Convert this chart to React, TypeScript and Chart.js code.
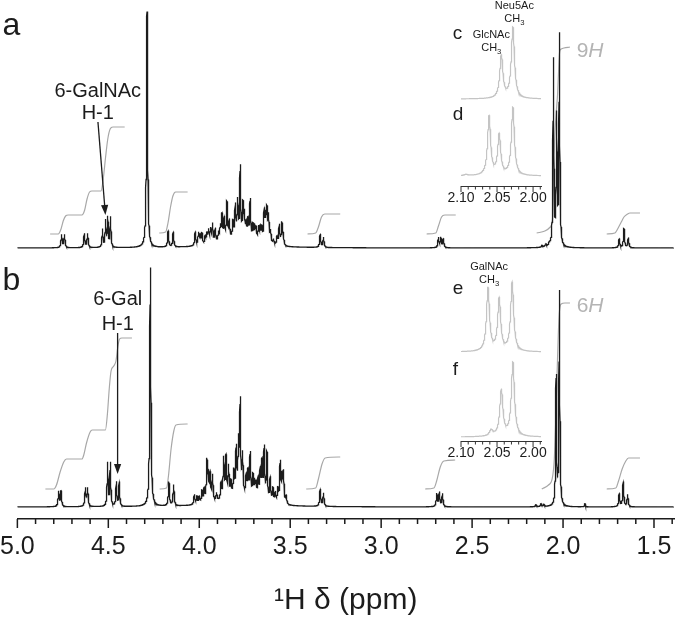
import React, { useEffect, useRef } from 'react';
import { Chart, registerables } from 'chart.js';

Chart.register(...registerables);

const FONT = '"Liberation Sans", Arial, Helvetica, sans-serif';
const INK = '#1c1c1c';
const INTEGRAL_GRAY = '#a8a8a8';
const INSET_GRAY = '#c4c4c4';
const LABEL_GRAY = '#b4b4b4';

// ---------- main axis ----------
const X_MIN = 1.39;
const X_MAX = 5.0;
const Y_MAX = 519;
const MAJOR_TICKS = [5.0, 4.5, 4.0, 3.5, 3.0, 2.5, 2.0, 1.5];
const MINOR_TICKS = [4.9, 4.8, 4.7, 4.6, 4.4, 4.3, 4.2, 4.1, 3.9, 3.8, 3.7, 3.6, 3.4, 3.3, 3.2, 3.1,
  2.9, 2.8, 2.7, 2.6, 2.4, 2.3, 2.2, 2.1, 1.9, 1.8, 1.7, 1.6, 1.4];

// stacking offsets of the two spectra (intensity units)
const OFFSET_A = 271;
const OFFSET_B = 12;

// peaks: [ppm, height, half-width (ppm)]
const PEAKS_A: number[][] = [
  [4.757, 13, 0.0035], [4.741, 13, 0.0035],
  [4.632, 14, 0.0035], [4.614, 14, 0.0035],
  [4.532, 18, 0.003], [4.515, 26, 0.003], [4.503, 29, 0.003], [4.488, 30, 0.003],
  [4.287, 236, 0.0035],
  [4.171, 16, 0.0035], [4.143, 15, 0.0035],
  [4.022, 14, 0.0035], [4.004, 12, 0.0035], [3.995, 9, 0.0035], [3.985, 11, 0.0035], [3.967, 8, 0.0035],
  [3.958, 10, 0.0035], [3.949, 13, 0.0035], [3.938, 14, 0.0035], [3.927, 19, 0.0035], [3.912, 14, 0.0035],
  [3.894, 9, 0.0035], [3.884, 14, 0.0035], [3.875, 25, 0.0035], [3.863, 21, 0.0035], [3.848, 37, 0.0035],
  [3.835, 18, 0.0035], [3.815, 16, 0.0035], [3.802, 32, 0.0035], [3.789, 36, 0.0035], [3.775, 70, 0.003],
  [3.760, 32, 0.0035], [3.752, 22, 0.0035], [3.742, 14, 0.0035], [3.732, 18, 0.0035], [3.720, 40, 0.0035],
  [3.705, 15, 0.0035], [3.695, 14, 0.0035], [3.687, 12, 0.0035], [3.674, 14, 0.0035], [3.665, 14, 0.0035],
  [3.656, 14, 0.0035], [3.643, 30, 0.0035], [3.635, 22, 0.0035], [3.628, 30, 0.0035], [3.619, 26, 0.0035],
  [3.608, 12, 0.0035], [3.592, 5, 0.0035], [3.572, 8, 0.0035],
  [3.560, 20, 0.0035], [3.546, 22, 0.0035], [3.538, 10, 0.0035],
  [3.79, 8, 0.11],
  [3.335, 13, 0.0035], [3.317, 10, 0.0035],
  [2.685, 10, 0.0035], [2.672, 10, 0.0035], [2.658, 9, 0.0035],
  [2.115, 2, 0.004], [2.095, 3, 0.004], [2.075, 3, 0.004],
  [2.053, 186, 0.0028], [2.035, 126, 0.0028], [2.020, 210, 0.0028],
  [1.691, 9, 0.0035], [1.665, 19, 0.0035], [1.641, 10, 0.0035],
];

const PEAKS_B: number[][] = [
  [4.773, 15, 0.0035], [4.760, 15, 0.0035],
  [4.626, 18, 0.0035], [4.614, 18, 0.0035],
  [4.504, 43, 0.003], [4.489, 43, 0.003],
  [4.456, 24, 0.003], [4.440, 24, 0.003],
  [4.269, 239, 0.0035],
  [4.167, 24, 0.0035], [4.141, 21, 0.0035],
  [4.027, 10, 0.0035], [4.013, 8, 0.0035], [4.000, 7, 0.0035], [3.985, 12, 0.0035], [3.973, 13, 0.0035],
  [3.958, 40, 0.0035], [3.950, 24, 0.0035], [3.940, 26, 0.0035], [3.927, 26, 0.0035], [3.905, 8, 0.0035],
  [3.880, 16, 0.0035], [3.866, 40, 0.0035], [3.853, 40, 0.0035], [3.839, 30, 0.0035], [3.826, 14, 0.0035],
  [3.810, 24, 0.0035], [3.797, 46, 0.0035], [3.784, 50, 0.0035], [3.775, 90, 0.003], [3.762, 40, 0.0035],
  [3.742, 20, 0.0035], [3.732, 24, 0.0035], [3.720, 44, 0.0035], [3.705, 22, 0.0035], [3.695, 16, 0.0035],
  [3.687, 14, 0.0035], [3.676, 20, 0.0035], [3.665, 28, 0.0035], [3.655, 36, 0.0035], [3.643, 52, 0.0035],
  [3.628, 48, 0.0035], [3.610, 24, 0.0035], [3.595, 14, 0.0035], [3.582, 10, 0.0035], [3.568, 14, 0.0035],
  [3.555, 40, 0.0035], [3.545, 24, 0.0035], [3.537, 30, 0.0035], [3.522, 8, 0.0035],
  [3.79, 9, 0.11],
  [3.335, 17, 0.0035], [3.317, 13, 0.0035],
  [2.694, 13, 0.0035], [2.680, 14, 0.0035], [2.663, 13, 0.0035],
  [2.148, 2, 0.004], [2.120, 3, 0.004], [2.105, 2, 0.004],
  [2.038, 128, 0.0028], [2.020, 214, 0.0028],
  [1.879, 3, 0.003],
  [1.691, 13, 0.0035], [1.669, 25, 0.0035], [1.645, 12, 0.0035],
];

// integration curves: [ppm, value]
const INTEGRALS_A: number[][][] = [
  [[4.82, 285], [4.775, 285], [4.76, 290], [4.748, 298], [4.735, 303], [4.72, 304], [4.645, 304], [4.63, 309],
   [4.617, 320], [4.603, 327], [4.59, 328], [4.54, 328], [4.528, 340], [4.515, 362], [4.503, 380], [4.49, 390],
   [4.475, 392], [4.41, 392]],
  [[4.22, 286], [4.185, 287], [4.172, 296], [4.158, 312], [4.145, 323], [4.13, 327], [4.064, 327]],
  [[3.405, 285], [3.36, 286], [3.345, 292], [3.328, 302], [3.31, 305], [3.225, 305]],
  [[2.75, 285], [2.70, 286], [2.685, 293], [2.668, 302], [2.65, 304], [2.59, 304]],
  [[2.145, 286], [2.10, 288], [2.07, 292], [2.058, 300], [2.052, 340], [2.046, 380], [2.038, 405], [2.030, 425],
   [2.024, 450], [2.021, 462], [2.018, 468], [2.010, 470], [1.995, 471], [1.962, 472]],
  [[1.76, 285], [1.715, 286], [1.70, 290], [1.68, 297], [1.665, 302], [1.645, 305], [1.632, 306], [1.577, 306]],
];

const INTEGRALS_B: number[][][] = [
  [[4.846, 30], [4.80, 30], [4.785, 34], [4.765, 47], [4.745, 57], [4.73, 60], [4.645, 60], [4.635, 64],
   [4.62, 76], [4.60, 87], [4.588, 89], [4.516, 89], [4.505, 105], [4.495, 130], [4.485, 148], [4.47, 153],
   [4.458, 158], [4.448, 172], [4.438, 180], [4.425, 181], [4.37, 181]],
  [[4.218, 30], [4.18, 31], [4.17, 42], [4.155, 70], [4.14, 88], [4.128, 94], [4.064, 95]],
  [[3.412, 30], [3.36, 31], [3.345, 40], [3.325, 55], [3.308, 61], [3.225, 62]],
  [[2.758, 30], [2.71, 31], [2.695, 38], [2.675, 52], [2.655, 58], [2.593, 59]],
  [[2.117, 30], [2.08, 34], [2.06, 40], [2.048, 60], [2.04, 100], [2.032, 150], [2.026, 185], [2.021, 205],
   [2.017, 212], [2.01, 215], [1.99, 216], [1.962, 216]],
  [[1.76, 30], [1.71, 31], [1.695, 38], [1.675, 50], [1.655, 58], [1.64, 61], [1.577, 61]],
];

// ---------- insets ----------
const INSET_MIN = 1.989;
const INSET_MAX = 2.10;
const INSET_Y_MAX = 186;
const INSET_MAJOR = [2.10, 2.05, 2.00];
const INSET_MINOR = [2.09, 2.08, 2.07, 2.06, 2.04, 2.03, 2.02, 2.01, 1.99];

const OFFSET_C = 87;
const OFFSET_D = 10;
const OFFSET_E = 89;
const OFFSET_F = 4;

const PEAKS_C: number[][] = [[2.044, 43, 0.0026], [2.028, 71, 0.0026]];
const PEAKS_D: number[][] = [[2.093, 1.2, 0.003], [2.061, 59, 0.0025], [2.047, 40, 0.0025], [2.028, 68, 0.0025]];
const PEAKS_E: number[][] = [[2.0625, 63, 0.0025], [2.047, 52, 0.0025], [2.029, 69, 0.0025]];
const PEAKS_F: number[][] = [[2.058, 6, 0.003], [2.044, 46, 0.0026], [2.028, 74, 0.0026]];

function spectrum(peaks: number[][], offset: number, from: number, to: number, step: number) {
  const n = Math.round((to - from) / step);
  const pts: { x: number; y: number }[] = [];
  for (let k = 0; k <= n; k++) {
    const x = to - k * step;
    let y = offset;
    for (const [p, h, w] of peaks) {
      const d = (x - p) / w;
      y += h / (1 + d * d);
    }
    pts.push({ x, y });
  }
  return pts;
}

const toPts = (arr: number[][]) => arr.map(([x, y]) => ({ x, y }));

function drawText(ctx: CanvasRenderingContext2D, text: string, px: number, py: number, size: number,
  color: string, align: CanvasTextAlign = 'center', style = '') {
  ctx.font = `${style}${size}px ${FONT}`;
  ctx.fillStyle = color;
  ctx.textAlign = align;
  ctx.textBaseline = 'alphabetic';
  ctx.fillText(text, px, py);
}

function drawCH3(ctx: CanvasRenderingContext2D, cx: number, by: number, size: number, color: string) {
  ctx.font = `${size}px ${FONT}`;
  const w1 = ctx.measureText('CH').width;
  ctx.font = `${size * 0.7}px ${FONT}`;
  const w2 = ctx.measureText('3').width;
  const left = cx - (w1 + w2) / 2;
  drawText(ctx, 'CH', left, by, size, color, 'left');
  drawText(ctx, '3', left + w1, by + size * 0.25, size * 0.7, color, 'left');
}

function drawArrow(ctx: CanvasRenderingContext2D, x1: number, y1: number, x2: number, y2: number) {
  const ang = Math.atan2(y2 - y1, x2 - x1);
  const head = 10, half = 3.6;
  const bx = x2 - head * Math.cos(ang), by = y2 - head * Math.sin(ang);
  ctx.strokeStyle = INK;
  ctx.lineWidth = 1.3;
  ctx.beginPath();
  ctx.moveTo(x1, y1);
  ctx.lineTo(bx, by);
  ctx.stroke();
  ctx.fillStyle = INK;
  ctx.beginPath();
  ctx.moveTo(x2, y2);
  ctx.lineTo(bx + half * Math.sin(ang), by - half * Math.cos(ang));
  ctx.lineTo(bx - half * Math.sin(ang), by + half * Math.cos(ang));
  ctx.closePath();
  ctx.fill();
}

function drawTicks(chart: any, major: number[], minor: number[], majorLen: number, minorLen: number, width: number, color: string) {
  const { ctx, scales, chartArea } = chart;
  const x = scales.x;
  const y0 = chartArea.bottom;
  ctx.save();
  ctx.strokeStyle = color;
  ctx.lineWidth = width;
  ctx.beginPath();
  for (const v of major) {
    const px = x.getPixelForValue(v);
    ctx.moveTo(px, y0);
    ctx.lineTo(px, y0 + majorLen);
  }
  for (const v of minor) {
    const px = x.getPixelForValue(v);
    ctx.moveTo(px, y0);
    ctx.lineTo(px, y0 + minorLen);
  }
  ctx.stroke();
  ctx.restore();
}

const mainPlugin = {
  id: 'mainDecor',
  afterDraw(chart: any) {
    drawTicks(chart, MAJOR_TICKS, MINOR_TICKS, 9, 5, 1.5, INK);
    const { ctx, scales } = chart;
    const X = (v: number) => scales.x.getPixelForValue(v);
    const Y = (v: number) => scales.y.getPixelForValue(v);
    ctx.save();
    // panel letters
    drawText(ctx, 'a', X(5.082), Y(484), 32, INK, 'left');
    drawText(ctx, 'b', X(5.082), Y(229), 32, INK, 'left');
    // annotations a
    drawText(ctx, '6-GalNAc', X(4.558), Y(422), 20, INK);
    drawText(ctx, 'H-1', X(4.558), Y(400), 20, INK);
    drawArrow(ctx, X(4.557), Y(397), X(4.516), Y(304));
    // annotations b
    drawText(ctx, '6-Gal', X(4.448), Y(214), 20, INK);
    drawText(ctx, 'H-1', X(4.448), Y(189), 20, INK);
    drawArrow(ctx, X(4.449), Y(186), X(4.449), Y(45));
    // integral labels
    const nH = (num: string, ppm: number, val: number) => {
      const px = X(ppm), py = Y(val) + 7.5;
      ctx.font = `21px ${FONT}`;
      const w = ctx.measureText(num).width;
      drawText(ctx, num, px, py, 21, LABEL_GRAY, 'left');
      drawText(ctx, 'H', px + w, py, 21, LABEL_GRAY, 'left', 'italic ');
    };
    nH('9', 1.925, 469.5);
    nH('6', 1.925, 214.5);
    ctx.restore();
  },
};

function makeInsetPlugin(labels: { top: string; bottom: string; compounds: { name: string; ppm: number; val: number }[] }) {
  return {
    id: 'insetDecor',
    afterDraw(chart: any) {
      drawTicks(chart, INSET_MAJOR, INSET_MINOR, 6, 3.5, 1, '#333');
      const { ctx, scales } = chart;
      const X = (v: number) => scales.x.getPixelForValue(v);
      const Y = (v: number) => scales.y.getPixelForValue(v);
      ctx.save();
      drawText(ctx, labels.top, X(2.1115), Y(147), 19, INK, 'left');
      drawText(ctx, labels.bottom, X(2.1115), Y(66), 19, INK, 'left');
      for (const c of labels.compounds) {
        drawText(ctx, c.name, X(c.ppm), Y(c.val), 11, INK);
        drawCH3(ctx, X(c.ppm), Y(c.val - 13), 11, INK);
      }
      ctx.restore();
    },
  };
}

function MainChart() {
  const ref = useRef<HTMLCanvasElement>(null);
  useEffect(() => {
    if (!ref.current) return;
    const specA = spectrum(PEAKS_A, OFFSET_A, X_MIN, X_MAX, 0.0005);
    const specB = spectrum(PEAKS_B, OFFSET_B, X_MIN, X_MAX, 0.0005);
    const lineDs = (data: any[], color: string, width: number, smooth: boolean) => ({
      data, borderColor: color, borderWidth: width, pointRadius: 0, fill: false,
      tension: smooth ? 0.4 : 0, cubicInterpolationMode: smooth ? 'monotone' : 'default',
    });
    const datasets: any[] = [
      lineDs(specA, INK, 1.3, false),
      lineDs(specB, INK, 1.3, false),
      ...INTEGRALS_A.map((s) => lineDs(toPts(s), INTEGRAL_GRAY, 1.2, true)),
      ...INTEGRALS_B.map((s) => lineDs(toPts(s), INTEGRAL_GRAY, 1.2, true)),
    ];
    const chart = new Chart(ref.current, {
      type: 'line',
      data: { datasets },
      options: {
        animation: false,
        responsive: false,
        parsing: false,
        events: [],
        layout: { padding: { left: 17, right: 1, top: 0, bottom: 0 } },
        plugins: { legend: { display: false }, tooltip: { enabled: false } },
        scales: {
          x: {
            type: 'linear', reverse: true, min: X_MIN, max: X_MAX,
            afterBuildTicks: (s: any) => { s.ticks = MAJOR_TICKS.map((v) => ({ value: v })); },
            afterFit: (s: any) => { s.height = 100; },
            grid: { display: true, drawOnChartArea: false, drawTicks: true, tickLength: 13, color: 'rgba(0,0,0,0)' },
            border: { display: true, color: INK, width: 1.5 },
            ticks: {
              font: { family: FONT, size: 25 }, color: INK, padding: 0, maxRotation: 0, autoSkip: false,
              callback: (v: any) => Number(v).toFixed(1),
            },
            title: { display: true, text: '¹H δ (ppm)', font: { family: FONT, size: 30 }, color: INK, padding: 0 },
          },
          y: { type: 'linear', display: false, min: 0, max: Y_MAX },
        },
      } as any,
      plugins: [mainPlugin],
    });
    return () => chart.destroy();
  }, []);
  return <canvas ref={ref} width={675} height={619} style={{ position: 'absolute', left: 0, top: 0, width: 675, height: 619 }} />;
}

function Inset(props: { top: number; peaksTop: number[][]; offTop: number; peaksBottom: number[][]; offBottom: number;
  labelTop: string; labelBottom: string; compounds: { name: string; ppm: number; val: number }[] }) {
  const ref = useRef<HTMLCanvasElement>(null);
  useEffect(() => {
    if (!ref.current) return;
    const t = spectrum(props.peaksTop, props.offTop, INSET_MIN, INSET_MAX, 0.0002);
    const b = spectrum(props.peaksBottom, props.offBottom, INSET_MIN, INSET_MAX, 0.0002);
    const chart = new Chart(ref.current, {
      type: 'line',
      data: {
        datasets: [
          { data: t, borderColor: INSET_GRAY, borderWidth: 1.2, pointRadius: 0, tension: 0 },
          { data: b, borderColor: INSET_GRAY, borderWidth: 1.2, pointRadius: 0, tension: 0 },
        ],
      },
      options: {
        animation: false,
        responsive: false,
        parsing: false,
        events: [],
        layout: { padding: { left: 31, right: 19, top: 0, bottom: 0 } },
        plugins: { legend: { display: false }, tooltip: { enabled: false } },
        scales: {
          x: {
            type: 'linear', reverse: true, min: INSET_MIN, max: INSET_MAX,
            afterBuildTicks: (s: any) => { s.ticks = INSET_MAJOR.map((v) => ({ value: v })); },
            afterFit: (s: any) => { s.height = 26; },
            grid: { display: true, drawOnChartArea: false, drawTicks: true, tickLength: 4, color: 'rgba(0,0,0,0)' },
            border: { display: true, color: '#333', width: 1 },
            ticks: {
              font: { family: FONT, size: 14 }, color: INK, padding: 0, maxRotation: 0, autoSkip: false,
              callback: (v: any) => Number(v).toFixed(2),
            },
          },
          y: { type: 'linear', display: false, min: 0, max: INSET_Y_MAX },
        },
      } as any,
      plugins: [makeInsetPlugin({ top: props.labelTop, bottom: props.labelBottom, compounds: props.compounds })],
    });
    return () => chart.destroy();
  }, []);
  return <canvas ref={ref} width={130} height={212} style={{ position: 'absolute', left: 430, top: props.top, width: 130, height: 212 }} />;
}

export default function App() {
  return (
    <div style={{ position: 'absolute', left: 0, top: 0, width: 675, height: 619, background: '#fff' }}>
      <MainChart />
      <Inset top={0} peaksTop={PEAKS_C} offTop={OFFSET_C} peaksBottom={PEAKS_D} offBottom={OFFSET_D}
        labelTop="c" labelBottom="d"
        compounds={[{ name: 'GlcNAc', ppm: 2.058, val: 148 }, { name: 'Neu5Ac', ppm: 2.026, val: 177 }]} />
      <Inset top={255} peaksTop={PEAKS_E} offTop={OFFSET_E} peaksBottom={PEAKS_F} offBottom={OFFSET_F}
        labelTop="e" labelBottom="f"
        compounds={[{ name: 'GalNAc', ppm: 2.061, val: 171 }]} />
    </div>
  );
}
